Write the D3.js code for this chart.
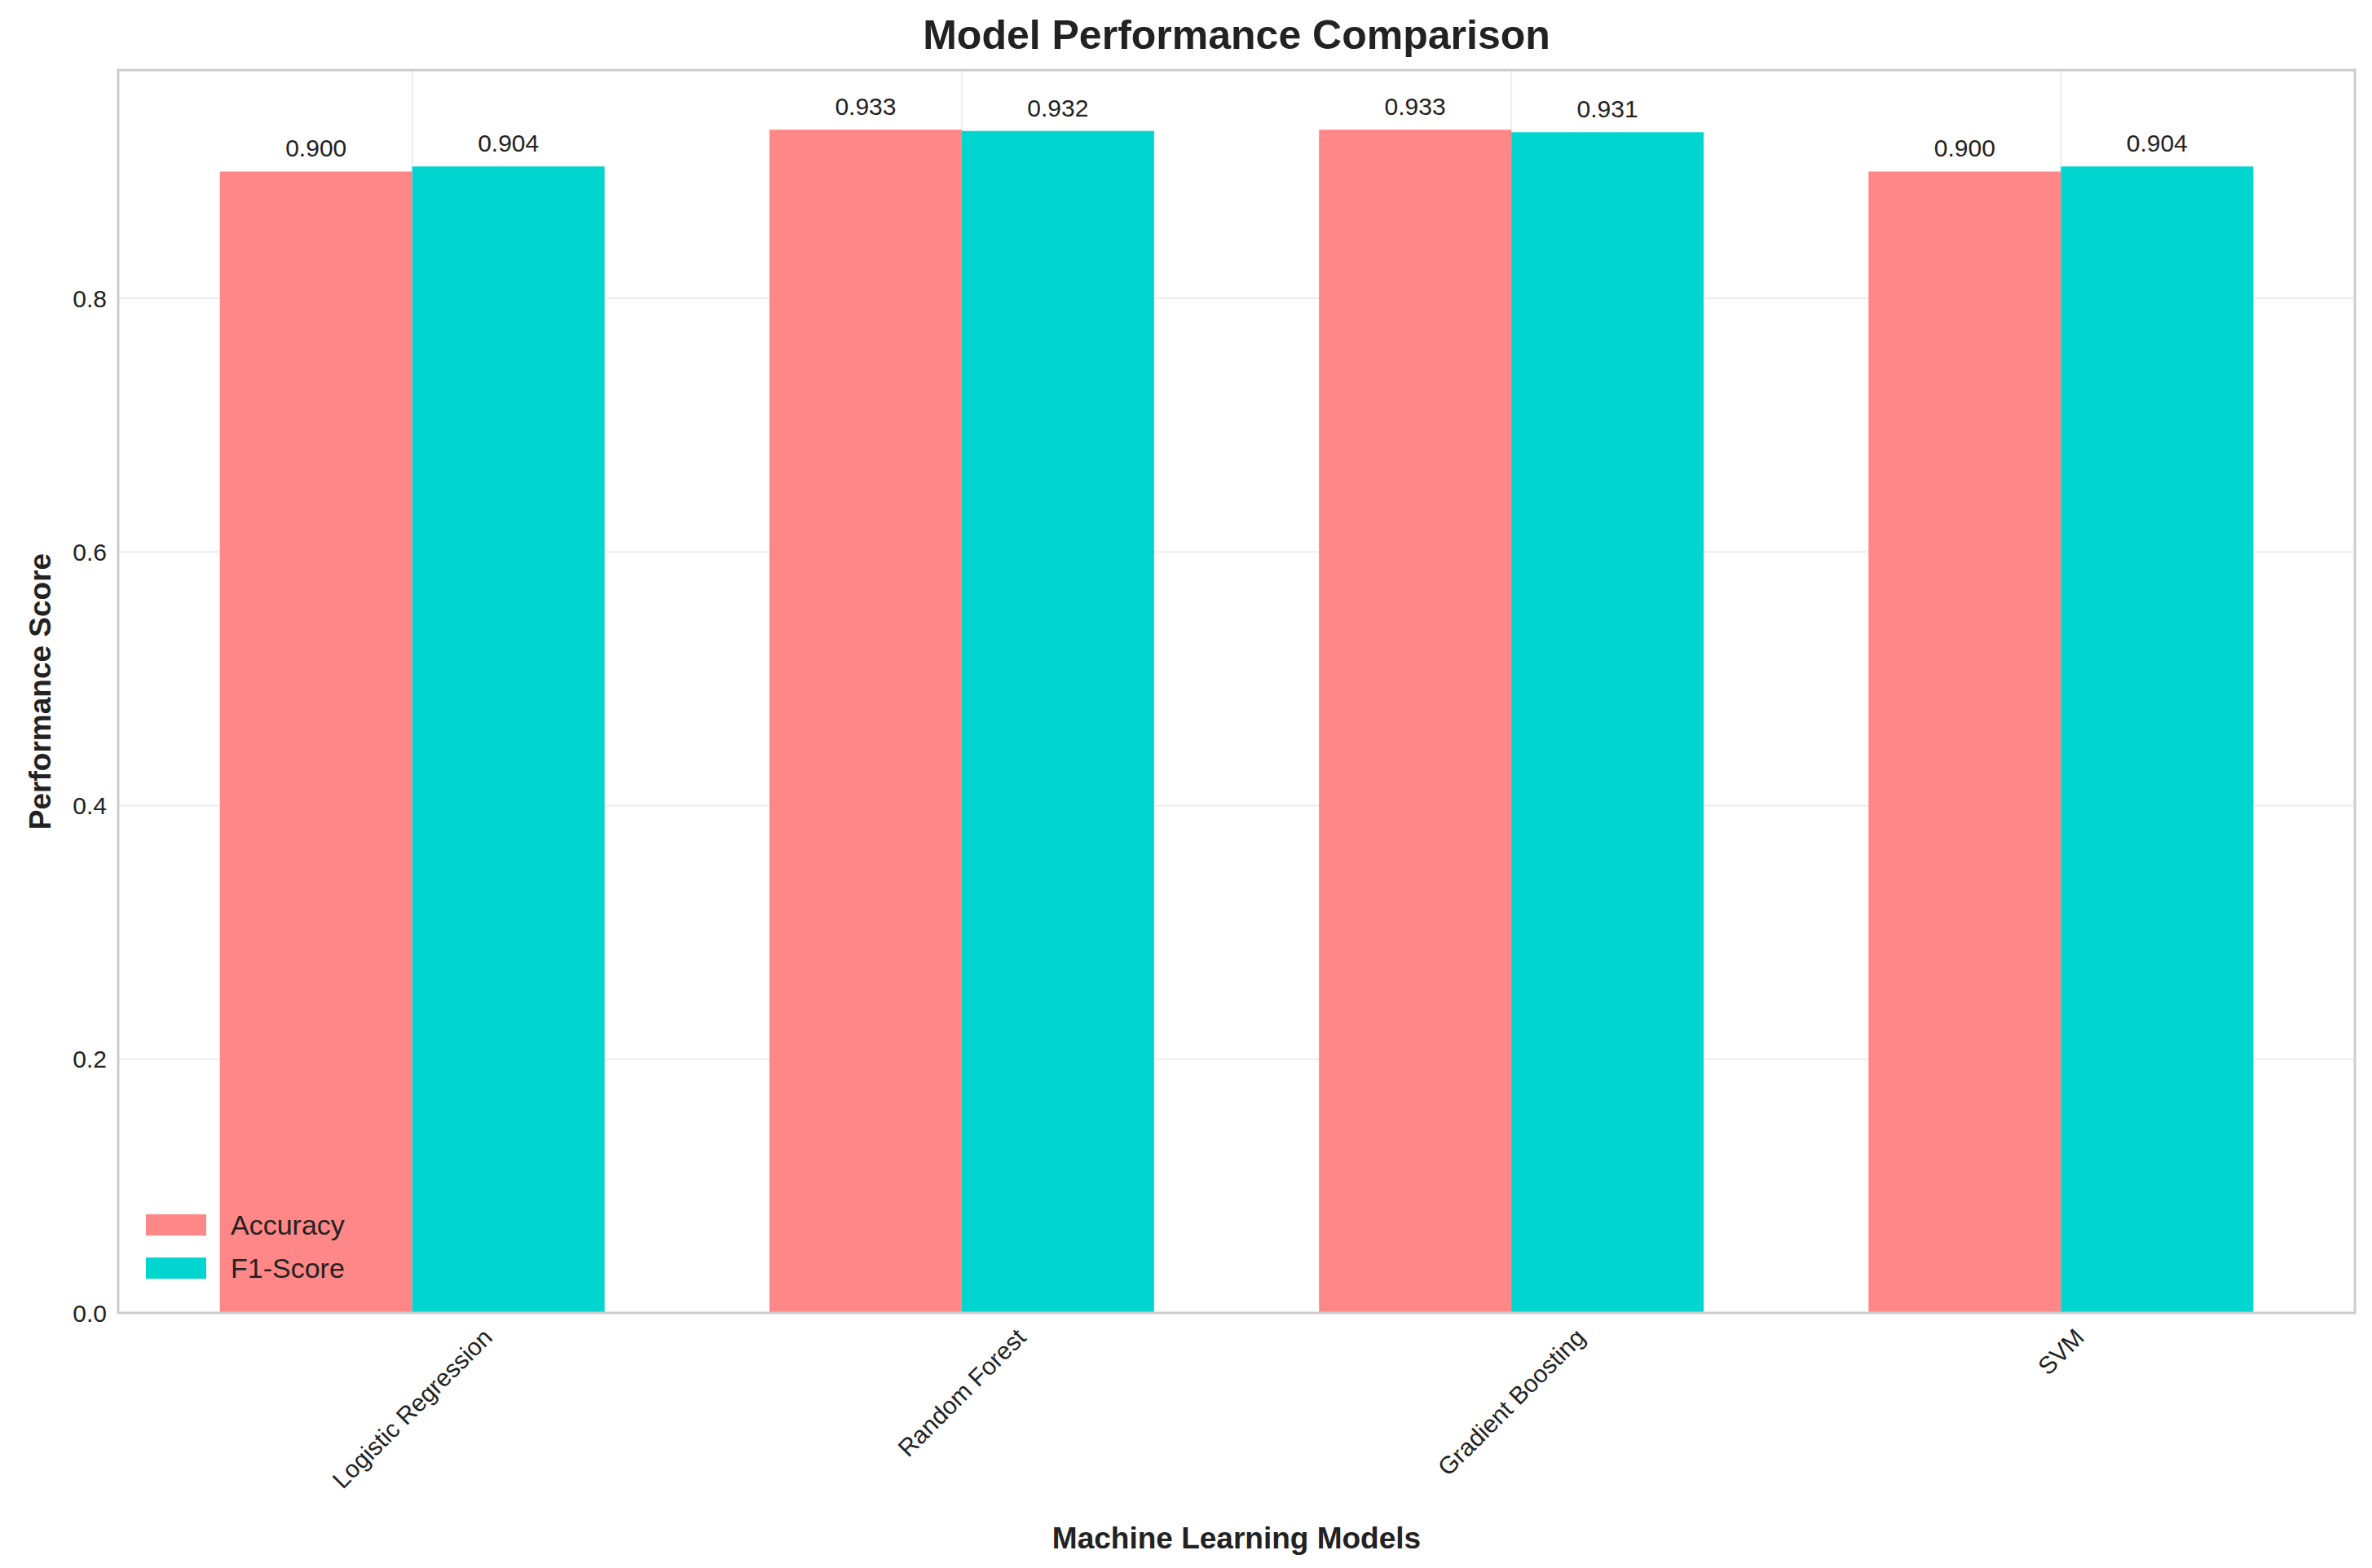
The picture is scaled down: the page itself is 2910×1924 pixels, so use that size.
<!DOCTYPE html>
<html>
<head>
<meta charset="utf-8">
<script src="https://cdn.jsdelivr.net/npm/d3@7"></script>
<style>
  body { margin: 0; background: #fff; }
  text { font-family: "Liberation Sans", Arial, sans-serif; fill: #222; }
</style>
</head>
<body>
<svg id="chart"></svg>
<script>
const models = ['Logistic Regression', 'Random Forest', 'Gradient Boosting', 'SVM'];
const accuracy = [0.900, 0.933, 0.933, 0.900];
const f1Score = [0.904, 0.932, 0.931, 0.904];
const yTicks = [0.0, 0.2, 0.4, 0.6, 0.8];
const seriesNames = ['Accuracy', 'F1-Score'];
const seriesColors = ['#ff8787', '#00d5cf'];

const width = 2910, height = 1924;
const margin = { left: 145, right: 21, top: 86, bottom: 313 };
const barWidth = 0.35;

const svg = d3.select('#chart').attr('width', width).attr('height', height);

const x = d3.scaleLinear()
    .domain([-0.535, models.length - 1 + 0.535])
    .range([margin.left, width - margin.right]);
const y = d3.scaleLinear()
    .domain([0, 0.98])
    .range([height - margin.bottom, margin.top]);

// grid
const grid = svg.append('g').attr('class', 'grid');
grid.selectAll('line.h').data(yTicks).enter().append('line')
    .attr('x1', x.range()[0]).attr('x2', x.range()[1])
    .attr('y1', d => y(d)).attr('y2', d => y(d))
    .attr('stroke', '#ececec').attr('stroke-width', 2);
grid.selectAll('line.v').data(models).enter().append('line')
    .attr('x1', (d, i) => x(i)).attr('x2', (d, i) => x(i))
    .attr('y1', y.range()[0]).attr('y2', y.range()[1])
    .attr('stroke', '#ececec').attr('stroke-width', 2);

// bars
[accuracy, f1Score].forEach((vals, s) => {
    const offset = s === 0 ? -barWidth / 2 : barWidth / 2;
    const g = svg.append('g').attr('class', 'series-' + s);
    g.selectAll('rect').data(vals).enter().append('rect')
        .attr('x', (d, i) => x(i + offset - barWidth / 2))
        .attr('width', x(barWidth) - x(0))
        .attr('y', d => y(d))
        .attr('height', d => y(0) - y(d))
        .attr('fill', seriesColors[s]);
    g.selectAll('text').data(vals).enter().append('text')
        .attr('x', (d, i) => x(i + offset))
        .attr('y', d => y(d) - 18)
        .attr('text-anchor', 'middle')
        .attr('font-size', 30)
        .text(d => d.toFixed(3));
});

// frame
svg.append('rect')
    .attr('x', x.range()[0]).attr('y', y.range()[1])
    .attr('width', x.range()[1] - x.range()[0])
    .attr('height', y.range()[0] - y.range()[1])
    .attr('fill', 'none').attr('stroke', '#cccccc').attr('stroke-width', 3);

// y ticks
svg.append('g').selectAll('text').data(yTicks).enter().append('text')
    .attr('x', margin.left - 14)
    .attr('y', d => y(d))
    .attr('dy', '0.35em')
    .attr('text-anchor', 'end')
    .attr('font-size', 30)
    .text(d => d.toFixed(1));

// x tick labels, rotated 45 and centred under the tick
const xl = svg.append('g');
models.forEach((m, i) => {
    const t = xl.append('text')
        .attr('text-anchor', 'middle')
        .attr('dominant-baseline', 'central')
        .attr('font-size', 30)
        .text(m);
    const L = t.node().getComputedTextLength();
    const half = (L + 30) * Math.SQRT1_2 / 2;
    t.attr('transform', `translate(${x(i)},${y(0) + 14 + half}) rotate(-45)`);
});

// axis titles
svg.append('text')
    .attr('x', (x.range()[0] + x.range()[1]) / 2).attr('y', 60)
    .attr('text-anchor', 'middle').attr('font-size', 50).attr('font-weight', 'bold')
    .text('Model Performance Comparison');
svg.append('text')
    .attr('x', (x.range()[0] + x.range()[1]) / 2).attr('y', 1900)
    .attr('text-anchor', 'middle').attr('font-size', 37).attr('font-weight', 'bold')
    .text('Machine Learning Models');
svg.append('text')
    .attr('transform', `translate(62,${(y.range()[0] + y.range()[1]) / 2}) rotate(-90)`)
    .attr('text-anchor', 'middle').attr('font-size', 37).attr('font-weight', 'bold')
    .text('Performance Score');

// legend
const legend = svg.append('g').attr('transform', 'translate(179,1490)');
seriesNames.forEach((n, i) => {
    legend.append('rect')
        .attr('x', 0).attr('y', i * 53)
        .attr('width', 74).attr('height', 26)
        .attr('fill', seriesColors[i]);
    legend.append('text')
        .attr('x', 104).attr('y', i * 53 + 13)
        .attr('dy', '0.35em')
        .attr('font-size', 34)
        .text(n);
});
</script>
</body>
</html>
